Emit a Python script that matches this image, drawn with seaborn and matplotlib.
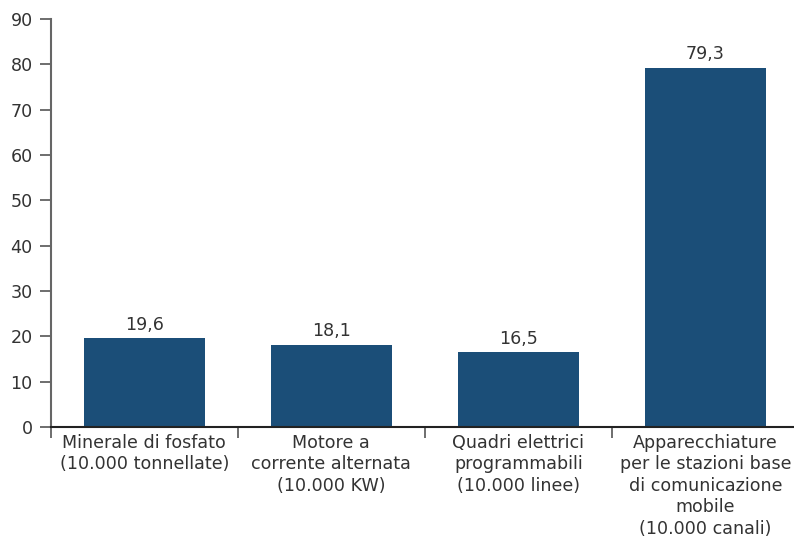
import matplotlib
matplotlib.use("Agg")
import matplotlib.pyplot as plt
import seaborn as sns
import pandas as pd
from matplotlib.ticker import FixedLocator

categories = [
    "Minerale di fosfato\n(10.000 tonnellate)",
    "Motore a\ncorrente alternata\n(10.000 KW)",
    "Quadri elettrici\nprogrammabili\n(10.000 linee)",
    "Apparecchiature\nper le stazioni base\ndi comunicazione\nmobile\n(10.000 canali)",
]
values = [19.6, 18.1, 16.5, 79.3]
y_ticks = [0, 10, 20, 30, 40, 50, 60, 70, 80, 90]

sns.set_theme(style="white")
plt.rcParams["font.family"] = ["DejaVu Sans"]

df = pd.DataFrame({"categoria": categories, "valore": values})

fig = plt.figure(figsize=(7.94, 5.45), dpi=100)
ax = fig.add_axes([0.064, 0.2165, 0.942, 0.7485])

sns.barplot(data=df, x="categoria", y="valore", color="#1b4e78",
            saturation=1, width=0.645, edgecolor="none", linewidth=0, ax=ax)

text_color = "#333333"
fs = 12.6
for i, v in enumerate(values):
    ax.text(i, v + 1.0, f"{v:.1f}".replace(".", ","), ha="center", va="bottom",
            fontsize=fs, color=text_color)

ax.set_ylim(0, 90)
ax.set_xlim(-0.5, 3.5)
ax.set_yticks(y_ticks)
ax.set_yticklabels([str(t) for t in y_ticks], fontsize=fs, color=text_color)
ax.set_xlabel("")
ax.set_ylabel("")

# category labels at centres, tick marks at category boundaries
ax.set_xticks(range(len(categories)))
ax.set_xticklabels(categories, fontsize=fs, color=text_color, linespacing=1.25)
ax.xaxis.set_minor_locator(FixedLocator([-0.5, 0.5, 1.5, 2.5]))
ax.tick_params(axis="x", which="major", length=0, pad=5)
ax.tick_params(axis="x", which="minor", length=8, width=1.2, color="#555555",
               direction="out", bottom=True)
ax.tick_params(axis="y", length=8, width=1.2, color="#555555", direction="out",
               left=True, pad=5)

for side in ["top", "right"]:
    ax.spines[side].set_visible(False)
ax.spines["left"].set_color("#666666")
ax.spines["left"].set_linewidth(1.5)
ax.spines["bottom"].set_color("#222222")
ax.spines["bottom"].set_linewidth(1.5)

fig.savefig("out.png", dpi=100)
